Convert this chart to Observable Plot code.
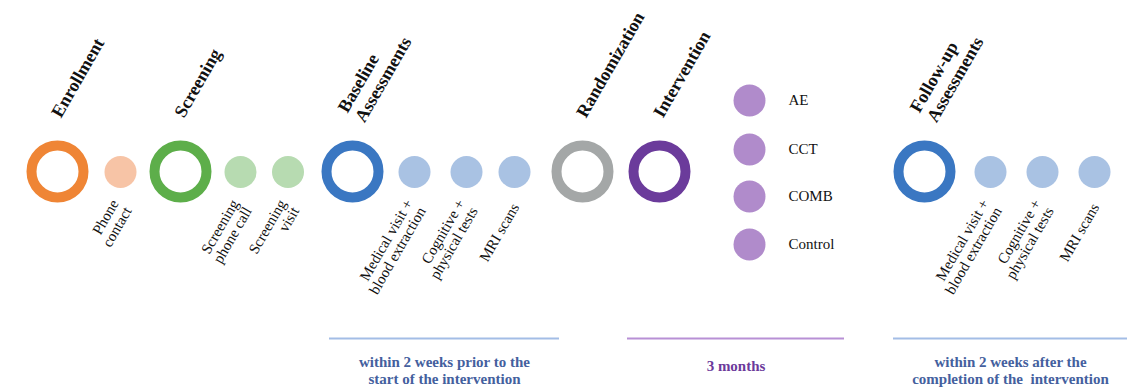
<!DOCTYPE html>
<html><head><meta charset="utf-8">
<script src="https://cdn.jsdelivr.net/npm/d3@7"></script>
<script src="https://cdn.jsdelivr.net/npm/@observablehq/plot@0.6"></script>
<style>html,body{margin:0;padding:0;background:#fff} svg{display:block}</style>
</head><body><div id="chart"></div>
<script>
// ---- data ----
const stageNames = ["Enrollment","Screening","Baseline\nAssessments","Randomization","Intervention","Follow-up\nAssessments"];
const stagePos = [57,180,352,582,659,924];
const stageColors = ["#ef8535","#5dae4a","#3a77c2","#a4a7a7","#6b3b9b","#3a77c2"];

const stepNames = ["Phone\ncontact","Screening\nphone call","Screening\nvisit","Medical visit +\nblood extraction","Cognitive +\nphysical tests","MRI scans","Medical visit +\nblood extraction","Cognitive +\nphysical tests","MRI scans"];
const stepPos = [120,240,287.5,414,466,514,990,1042,1094];
const stepColors = ["#f7c4a6","#b7dbb1","#b7dbb1","#a9c2e3","#a9c2e3","#a9c2e3","#a9c2e3","#a9c2e3","#a9c2e3"];

const armNames = ["AE","CCT","COMB","Control"];
const armPos = [100,149,196,244];

const periodNames = ["within 2 weeks prior to the\nstart of the intervention","3 months","within 2 weeks after the\ncompletion of the  intervention"];
const periodStart = [329,627,893];
const periodEnd = [559,844,1127];
const periodLineColors = ["#a3bde6","#b890d5","#a3bde6"];
const periodTextColors = ["#44609e","#6c3a9b","#44609e"];

// ---- layout constants ----
const W = 1129, H = 388;
const NODE_Y = 171, TITLE_Y = 115, STEP_Y = 204, ARM_X = 749, ARM_LABEL_X = 788, PERIOD_Y = 338;
const serif = "'Liberation Serif','Times New Roman',serif";

const stages = stageNames.map((name, i) => ({name, x: stagePos[i], color: stageColors[i]}));
const steps = stepNames.map((name, i) => ({name, x: stepPos[i], color: stepColors[i]}));
const arms = armNames.map((name, i) => ({name, y: armPos[i]}));
const periods = periodNames.map((name, i) => ({name, x1: periodStart[i], x2: periodEnd[i], line: periodLineColors[i], text: periodTextColors[i]}));

const chart = Plot.plot({
  width: W, height: H,
  margin: 0,
  x: {type: "linear", domain: [0, W], range: [0, W], axis: null},
  y: {type: "linear", domain: [0, H], range: [0, H], axis: null},
  color: {type: "identity"},
  style: {background: "#fff", fontFamily: serif},
  marks: [
    // stage rings
    Plot.dot(stages, {x: "x", y: () => NODE_Y, r: 26, stroke: "color", strokeWidth: 10, fill: "white"}),
    // stage titles
    Plot.text(stages, {x: "x", y: () => TITLE_Y, text: "name", rotate: -60, textAnchor: "start", lineAnchor: "middle",
      dx: -2, fontSize: 18, fontWeight: "bold", fill: "#111", lineHeight: 1.1, fontFamily: serif}),
    // sub-steps
    Plot.dot(steps, {x: "x", y: () => NODE_Y + 0.5, r: 16, fill: "color", stroke: "none"}),
    Plot.text(steps, {x: "x", y: () => STEP_Y, text: "name", rotate: -60, textAnchor: "end", lineAnchor: "middle",
      dx: 1, fontSize: 15, fill: "#111", lineHeight: 1.0, fontFamily: serif}),
    // intervention arms
    Plot.dot(arms, {x: () => ARM_X, y: "y", r: 16, fill: "#b08bcb", stroke: "none"}),
    Plot.text(arms, {x: () => ARM_LABEL_X, y: "y", text: "name", textAnchor: "start", lineAnchor: "middle",
      fontSize: 15, fill: "#111", fontFamily: serif}),
    // periods
    Plot.ruleY(periods, {x1: "x1", x2: "x2", y: () => PERIOD_Y, stroke: "line", strokeWidth: 2}),
    Plot.text(periods, {x: d => (d.x1 + d.x2) / 2, y: d => d.name.includes("\n") ? 370 : 365, text: "name",
      textAnchor: "middle", lineAnchor: "middle", fontSize: 15, fontWeight: "bold", fill: "text", lineHeight: 1.13, fontFamily: serif})
  ]
});
document.getElementById("chart").appendChild(chart);
</script>
</body></html>
